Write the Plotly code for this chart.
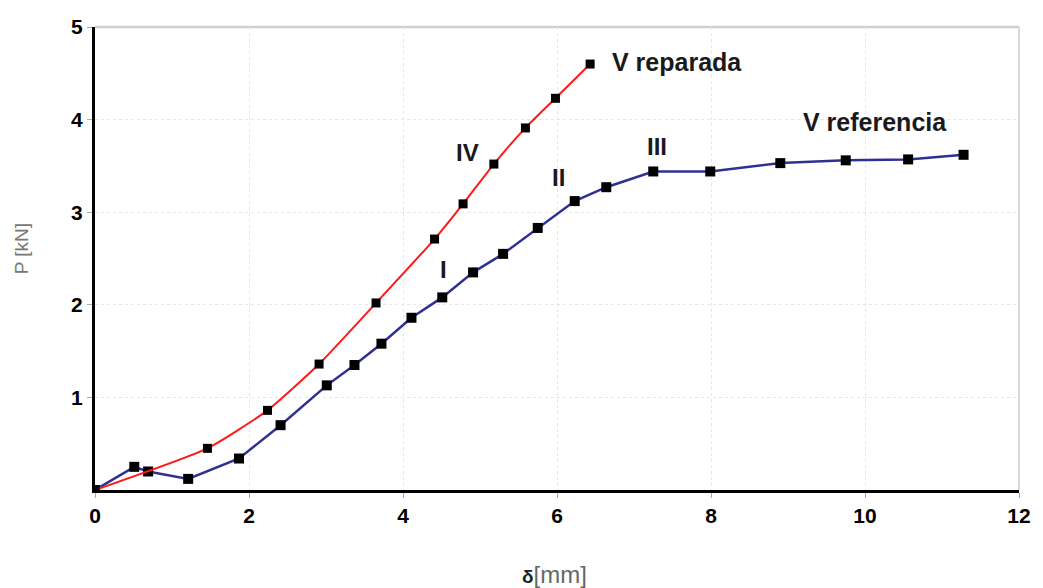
import plotly.graph_objects as go

# V referencia (blue) - displacement [mm] and load [kN]
ref_delta = [0.0, 0.51, 0.69, 1.21, 1.87, 2.41, 3.01, 3.37, 3.72, 4.11, 4.51, 4.91, 5.30, 5.75, 6.23, 6.64, 7.25, 7.99, 8.90, 9.75, 10.56, 11.28]
ref_load = [0.0, 0.25, 0.20, 0.12, 0.34, 0.70, 1.13, 1.35, 1.58, 1.86, 2.08, 2.35, 2.55, 2.83, 3.12, 3.27, 3.44, 3.44, 3.53, 3.56, 3.57, 3.62]

# V reparada (red)
rep_delta = [0.0, 1.46, 2.24, 2.91, 3.65, 4.41, 4.78, 5.18, 5.59, 5.98, 6.43]
rep_load = [0.0, 0.45, 0.86, 1.36, 2.02, 2.71, 3.09, 3.52, 3.91, 4.23, 4.60]

x_ticks = [0, 2, 4, 6, 8, 10, 12]
y_ticks = [1, 2, 3, 4, 5]

fig = go.Figure()

fig.add_trace(go.Scatter(
    x=ref_delta, y=ref_load, mode="lines+markers", name="V referencia",
    line=dict(color="#2E3192", width=2.5),
    marker=dict(symbol="square", size=10, color="black"),
))
fig.add_trace(go.Scatter(
    x=rep_delta, y=rep_load, mode="lines+markers", name="V reparada",
    line=dict(color="#FF1A1A", width=2, shape="spline", smoothing=0.5),
    marker=dict(symbol="square", size=9, color="black"),
))

FONT = "Liberation Sans, Arial, sans-serif"
labels = [
    (6.69, 4.62, "V reparada", "left", 25),
    (10.13, 3.97, "V referencia", "center", 25),
    (4.84, 3.64, "IV", "center", 24),
    (7.30, 3.71, "III", "center", 24),
    (6.02, 3.37, "II", "center", 24),
    (4.52, 2.38, "I", "center", 24),
]
for x, y, t, anchor, size in labels:
    fig.add_annotation(x=x, y=y, text=f"<b>{t}</b>", showarrow=False,
                       xanchor=anchor, yanchor="middle",
                       font=dict(family=FONT, size=size, color="#1a1a1a"))

# axis titles
fig.add_annotation(xref="paper", yref="paper", x=-0.08, y=0.52,
                   text="P [kN]", textangle=-90, showarrow=False,
                   xanchor="center", yanchor="middle",
                   font=dict(family=FONT, size=19, color="#777777"))
fig.add_annotation(xref="paper", yref="paper", x=0.497, y=-0.182,
                   text="<b>δ</b><span style='font-size:24px;color:#666666'>[mm]</span>",
                   showarrow=False, xanchor="center", yanchor="middle",
                   font=dict(family=FONT, size=19, color="#222222"))

# frame: light gray top and right borders
fig.add_shape(type="line", xref="paper", yref="paper", x0=0, x1=1, y0=1, y1=1,
              line=dict(color="#D0D0D0", width=2.5), layer="below")
fig.add_shape(type="line", xref="paper", yref="paper", x0=1, x1=1, y0=0, y1=1,
              line=dict(color="#D8D8D8", width=2), layer="below")

tick_font = dict(family=FONT, size=21, color="black")

fig.update_xaxes(
    range=[0, 12], tickvals=x_ticks, ticktext=[f"<b>{v}</b>" for v in x_ticks],
    showgrid=True, gridcolor="#E6E6E6", griddash="dot", gridwidth=1,
    showline=True, linecolor="black", linewidth=3,
    ticks="outside", ticklen=5, tickcolor="#AAAAAA", tickfont=tick_font,
    zeroline=False,
)
fig.update_yaxes(
    range=[0, 5], tickvals=y_ticks, ticktext=[f"<b>{v}</b>" for v in y_ticks],
    showgrid=True, gridcolor="#E6E6E6", griddash="dot", gridwidth=1,
    showline=True, linecolor="black", linewidth=3,
    ticks="outside", ticklen=5, tickcolor="#AAAAAA", tickfont=tick_font,
    zeroline=False,
)

fig.update_layout(
    width=1043, height=588,
    margin=dict(l=95, r=17, t=27, b=98),
    paper_bgcolor="white", plot_bgcolor="white",
    showlegend=False,
)

fig.write_html("out.html")
